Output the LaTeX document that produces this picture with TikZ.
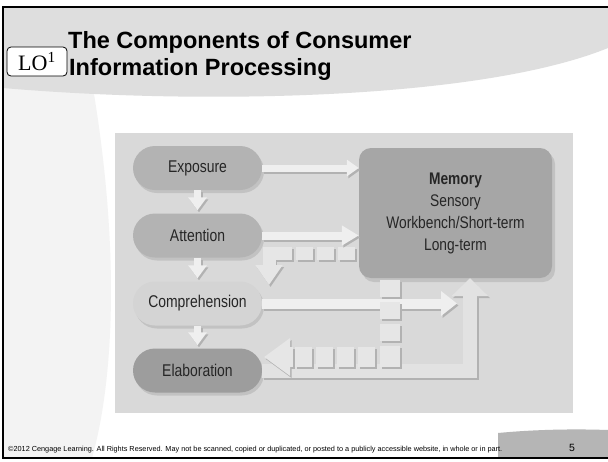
\documentclass[tikz,border=0pt]{standalone}
\usepackage{fontspec}
\setmainfont{Liberation Sans}
\newfontfamily\narrowsf[FakeStretch=0.82]{Liberation Sans}
\newfontfamily\serifLO{Liberation Serif}
\usetikzlibrary{arrows.meta,shadows,calc}
\definecolor{hdr}{HTML}{DEDEDE}
\definecolor{strip}{HTML}{F3F3F3}
\definecolor{dbg}{HTML}{D9D9D9}
\definecolor{pillA}{HTML}{B3B3B3}
\definecolor{pillC}{HTML}{D4D4D4}
\definecolor{pillE}{HTML}{9D9D9D}
\definecolor{memc}{HTML}{A6A6A6}
\definecolor{arrface}{HTML}{EFEFEF}
\definecolor{arrshad}{HTML}{B2B2B2}
\definecolor{segc}{HTML}{E6E6E6}
\definecolor{lface}{HTML}{E2E2E2}
\definecolor{footc}{HTML}{B5B5B5}
\newcommand{\twotone}[3]{%
  \draw[#2, draw=arrshad, transform canvas={shift={(1.5pt,-2pt)}}] #3;
  \draw[#2, draw=#1] #3;}
\newcommand{\segsq}[4]{%
  \fill[arrshad] (#1+1.5,#2+2) rectangle (#3+1.5,#4+2);
  \fill[segc] (#1,#2) rectangle (#3,#4);}
\begin{document}
\begin{tikzpicture}[x=1pt,y=-1pt,
  pill/.style={rounded corners=22pt, minimum width=129pt, minimum height=44pt, inner sep=0pt,
    font=\narrowsf\fontsize{17}{20}\selectfont, text=black!85,
    drop shadow={opacity=0.25,shadow xshift=2pt,shadow yshift=-3pt}},
  membox/.style={rounded corners=12pt, minimum width=193pt, minimum height=130pt, inner sep=0pt,
    fill=memc, align=center, font=\narrowsf\fontsize{16.8}{22}\selectfont, text=black!85,
    drop shadow={opacity=0.25,shadow xshift=3pt,shadow yshift=-4pt}},
  titletext/.style={anchor=base west, inner sep=0pt, font=\bfseries\fontsize{23.5}{27}\selectfont}]
\useasboundingbox (0,0) rectangle (608,461);
% slide background
\fill[white] (0,0) rectangle (608,461);
\fill[strip] (3,80) -- (93,88) .. controls (120,250) and (114,380) .. (92,458) -- (3,458) -- cycle;
\fill[hdr] (3,7) -- (608,7) -- (608,48) .. controls (480,100) and (200,105) .. (3,88) -- cycle;
\fill[footc] (498,458) -- (498,433) .. controls (540,429) and (580,429) .. (608,430) -- (608,458) -- cycle;
\draw[line width=1.5pt] (608,7) -- (3,7) -- (3,458) -- (608,458);
% title
\node[draw, rounded corners=4pt, fill=white, line width=0.8pt, minimum width=60pt, minimum height=29pt, inner sep=0pt]
  (lo) at (37,61.5) {\serifLO\fontsize{22}{22}\selectfont LO\textsuperscript{1}};
\node[titletext] (t1) at (68,48) {The Components of Consumer};
\node[titletext] (t2) at (69,75) {Information Processing};
% diagram background
\fill[dbg] (115,133) rectangle (573,413);
% nodes
\node[pill, fill=pillA] (expo) at (197.5,168) {Exposure};
\node[pill, fill=pillA] (att) at (197.5,235.5) {Attention};
\node[pill, fill=pillC] (comp) at (197.5,303.5) {Comprehension};
\node[pill, fill=pillE] (elab) at (197.5,370.5) {Elaboration};
\node[membox] (mem) at (455.5,213) {\textbf{Memory}\\Sensory\\Workbench/Short-term\\Long-term};
% helper coordinates
\coordinate (lcorner) at (470,370.5);
\coordinate (ctip) at (457,303.5);
\coordinate (tstart) at (269,259);
\coordinate (ttip) at (269,285);
\coordinate (bstart) at (293,357);
\coordinate (btip) at (264,357);
% connectors
\twotone{lface}{line width=14pt, line join=miter, -{Triangle[width=36pt,length=18pt]}}{(elab.east) -- (lcorner) -- (lcorner |- mem.south)}
\twotone{arrface}{line width=10pt, -{Triangle[width=24pt,length=16pt]}}{(comp.east) -- (ctip)}
% segmented feedback: memory -> elaboration
\segsq{380}{280}{400}{297}
\segsq{380}{302}{400}{319}
\segsq{380}{324}{400}{341}
\segsq{380}{346}{400}{367}
\segsq{358}{347}{375}{367}
\segsq{337}{347}{354}{367}
\segsq{316}{347}{333}{367}
\segsq{295}{347}{312}{367}
\twotone{segc}{line width=20pt, -{Triangle[width=36pt,length=26pt]}}{(bstart) -- (btip)}
% segmented feedback: memory -> comprehension
\segsq{338}{247}{355}{260}
\segsq{317}{247}{334}{260}
\segsq{296}{247}{313}{260}
\segsq{263}{247}{292}{260}
\twotone{segc}{line width=13pt, -{Triangle[width=26pt,length=20pt]}}{(tstart) -- (ttip)}
% forward arrows
\twotone{arrface}{line width=7pt, -{Triangle[width=16pt,length=12pt]}}{(expo.east) -- (expo.east -| mem.west)}
\twotone{arrface}{line width=8pt, -{Triangle[width=19pt,length=17pt]}}{(att.east) -- (att.east -| mem.west)}
\twotone{arrface}{line width=7pt, -{Triangle[width=18pt,length=13pt]}}{(expo.south) -- ([yshift=3pt]att.north)}
\twotone{arrface}{line width=7pt, -{Triangle[width=18pt,length=13pt]}}{(att.south) -- ([yshift=3pt]comp.north)}
\twotone{arrface}{line width=7pt, -{Triangle[width=18pt,length=13pt]}}{(comp.south) -- ([yshift=3pt]elab.north)}
% footer
\node[anchor=west, inner sep=0pt, font=\fontsize{7.3}{8}\selectfont] (foot) at (8,449.5)
  {©2012 Cengage Learning. All Rights Reserved. May not be scanned, copied or duplicated, or posted to a publicly accessible website, in whole or in part.};
\node[inner sep=0pt, font=\fontsize{10.5}{12}\selectfont] (pg) at (572,448) {5};
\end{tikzpicture}
\end{document}
